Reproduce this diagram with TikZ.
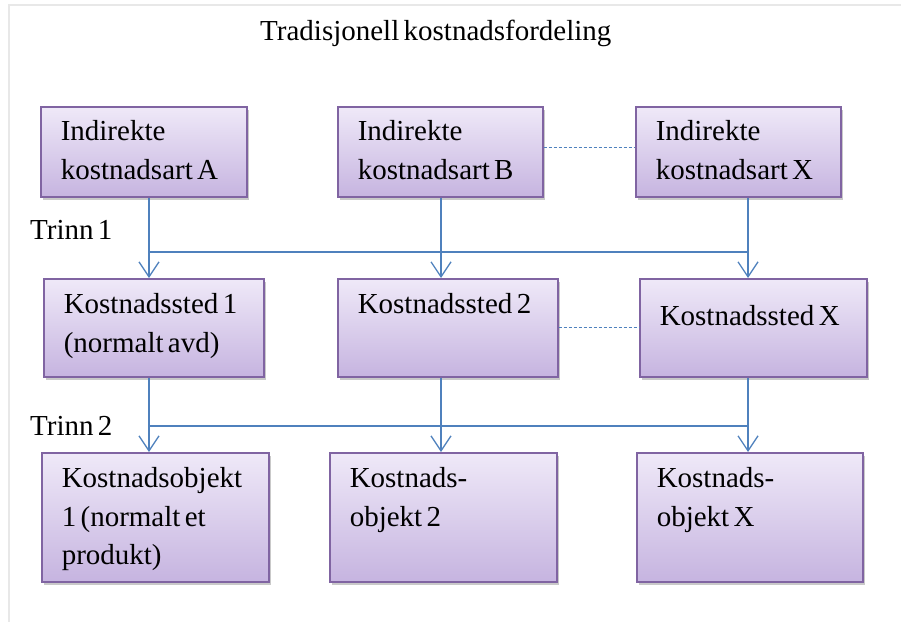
\documentclass[tikz,border=0pt]{standalone}
\usepackage{fontspec}
\setmainfont{Liberation Serif}[WordSpace=0.6]
\usetikzlibrary{arrows.meta,shadows,calc}
\definecolor{linjeblaa}{HTML}{4F81BD}
\definecolor{kantlilla}{HTML}{8064A2}
\definecolor{lystopp}{HTML}{EFE9F8}
\definecolor{lysbunn}{HTML}{C6B4E0}
\tikzset{%
        x = 1pt,
        y = -1pt,
        tekst/.style = {inner sep=0pt, anchor=base west, font=\fontsize{29}{38.5}\selectfont}
}
\tikzstyle{boks}=[
    draw = kantlilla,
    line width = 1.5pt,
    top color = lystopp,
    bottom color = lysbunn,
    drop shadow = {shadow xshift=2pt, shadow yshift=-3pt, opacity=0.3, fill=black!70},
    anchor = north west,
    inner xsep = 20pt,
    inner ysep = 0pt,
    align = flush left,
    font = \fontsize{29}{38.5}\selectfont
]
\tikzstyle{linje}=[
    draw = linjeblaa,
    line width = 1.3pt
]
\tikzstyle{pil}=[
    linje,
    -{Straight Barb[length=15pt, width=20pt]}
]
\tikzstyle{stiplet}=[
    draw = linjeblaa,
    line width = 1.2pt,
    dash pattern = on 3pt off 2pt
]

\begin{document}
\begin{tikzpicture}
            \useasboundingbox (0,0) rectangle (901,622);
            \draw[black!9, line width=2pt] (9,622) -- (9,5) -- (901,5);

            \node[tekst] (tittel) at (260,40) {Tradisjonell kostnadsfordeling};
            \node[tekst] (trinn1) at (30,239) {Trinn 1};
            \node[tekst] (trinn2) at (30,435) {Trinn 2};

            \node[boks, text width=166pt, text height=34pt, text depth=56pt] (artA) at (40,106) {Indirekte\\kostnadsart A};
            \node[boks, text width=165pt, text height=34pt, text depth=56pt] (artB) at (337,106) {Indirekte\\kostnadsart B};
            \node[boks, text width=165pt, text height=34pt, text depth=56pt] (artX) at (635,106) {Indirekte\\kostnadsart X};

            \node[boks, text width=180pt, text height=35pt, text depth=63pt] (sted1) at (43,278) {Kostnadssted 1\\(normalt avd)};
            \node[boks, text width=180pt, text height=35pt, text depth=63pt] (sted2) at (337,278) {Kostnadssted 2};
            \node[boks, text width=187pt, text height=47pt, text depth=51pt] (stedX) at (639,278) {Kostnadssted X};

            \node[boks, text width=187pt, text height=35pt, text depth=94pt] (obj1) at (41,452) {Kostnadsobjekt\\1 (normalt et\\produkt)};
            \node[boks, text width=187pt, text height=35pt, text depth=94pt] (obj2) at (329,452) {Kostnads-\\objekt 2};
            \node[boks, text width=186pt, text height=35pt, text depth=94pt] (objX) at (636,452) {Kostnads-\\objekt X};

            \coordinate (k1) at (149,0);
            \coordinate (k2) at (441,0);
            \coordinate (k3) at (748,0);
            \coordinate (buss1) at (0,252);
            \coordinate (buss2) at (0,426);

            \foreach \fra/\til/\k in {artA/sted1/k1, artB/sted2/k2, artX/stedX/k3,
                                      sted1/obj1/k1, sted2/obj2/k2, stedX/objX/k3}
                \draw[pil] (\fra.south -| \k) -- (\til.north -| \k);
            \draw[linje] (k1 |- buss1) -- (k3 |- buss1);
            \draw[linje] (k1 |- buss2) -- (k3 |- buss2);

            \draw[stiplet] ([yshift=4pt]artB.east) -- ([yshift=4pt]artX.west);
            \draw[stiplet] (sted2.east) -- (stedX.west);
        \end{tikzpicture}
\end{document}
